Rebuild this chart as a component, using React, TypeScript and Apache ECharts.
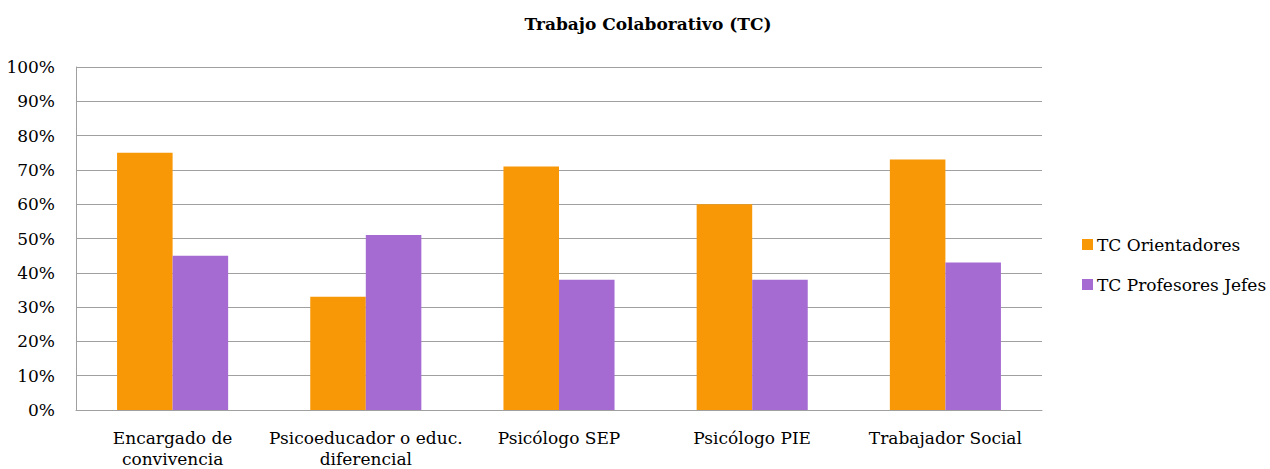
import React, { useEffect, useRef } from "react";
import * as echarts from "echarts";

const categories = [
  "Encargado de\nconvivencia",
  "Psicoeducador o educ.\ndiferencial",
  "Psicólogo SEP",
  "Psicólogo PIE",
  "Trabajador Social",
];
const orientadores = [75, 33, 71, 60, 73];
const profesoresJefes = [45, 51, 38, 38, 43];
const yTicks = [0, 10, 20, 30, 40, 50, 60, 70, 80, 90, 100];

export default function App() {
  const ref = useRef<HTMLDivElement>(null);
  useEffect(() => {
    if (!ref.current) return;
    const chart = echarts.init(ref.current, null, { renderer: "svg" });
    const font = "DejaVu Serif";
    chart.setOption({
      animation: false,
      backgroundColor: "#ffffff",
      textStyle: { fontFamily: font },
      title: {
        text: "Trabajo Colaborativo (TC)",
        left: 643,
        textAlign: "center",
        top: 10,
        textStyle: { fontFamily: font, fontSize: 17, fontWeight: "bold", color: "#000" },
      },
      legend: {
        orient: "vertical",
        left: 1077,
        top: 231,
        itemWidth: 11,
        itemHeight: 11,
        itemGap: 23,
        icon: "rect",
        textStyle: { fontFamily: font, fontSize: 17, color: "#000", padding: [0, 0, 0, -1] },
        data: ["TC Orientadores", "TC Profesores Jefes"],
      },
      grid: { left: 76, right: 228, top: 67, bottom: 58, containLabel: false },
      xAxis: {
        type: "category",
        data: categories,
        axisLine: { show: true, lineStyle: { color: "#a0a0a0", width: 1 } },
        axisTick: { show: false },
        axisLabel: {
          fontFamily: font,
          fontSize: 17,
          color: "#000",
          margin: 17,
          lineHeight: 21,
          interval: 0,
        },
      },
      yAxis: {
        type: "value",
        min: 0,
        max: 100,
        interval: 10,
        axisLine: { show: true, lineStyle: { color: "#a0a0a0", width: 1 } },
        axisTick: { show: false },
        splitLine: { show: true, lineStyle: { color: "#a0a0a0", width: 1 } },
        axisLabel: {
          fontFamily: font,
          fontSize: 17,
          color: "#000",
          margin: 21,
          formatter: (v: number) => (yTicks.includes(v) ? v + "%" : ""),
        },
      },
      series: [
        {
          name: "TC Orientadores",
          type: "bar",
          data: orientadores,
          itemStyle: { color: "#F99806" },
          barGap: "0%",
          barCategoryGap: "42.5%",
        },
        {
          name: "TC Profesores Jefes",
          type: "bar",
          data: profesoresJefes,
          itemStyle: { color: "#A66BD3" },
          barGap: "0%",
          barCategoryGap: "42.5%",
        },
      ],
    });
    return () => chart.dispose();
  }, []);
  return <div ref={ref} style={{ width: 1270, height: 469, position: "absolute", left: 0, top: 0 }} />;
}
